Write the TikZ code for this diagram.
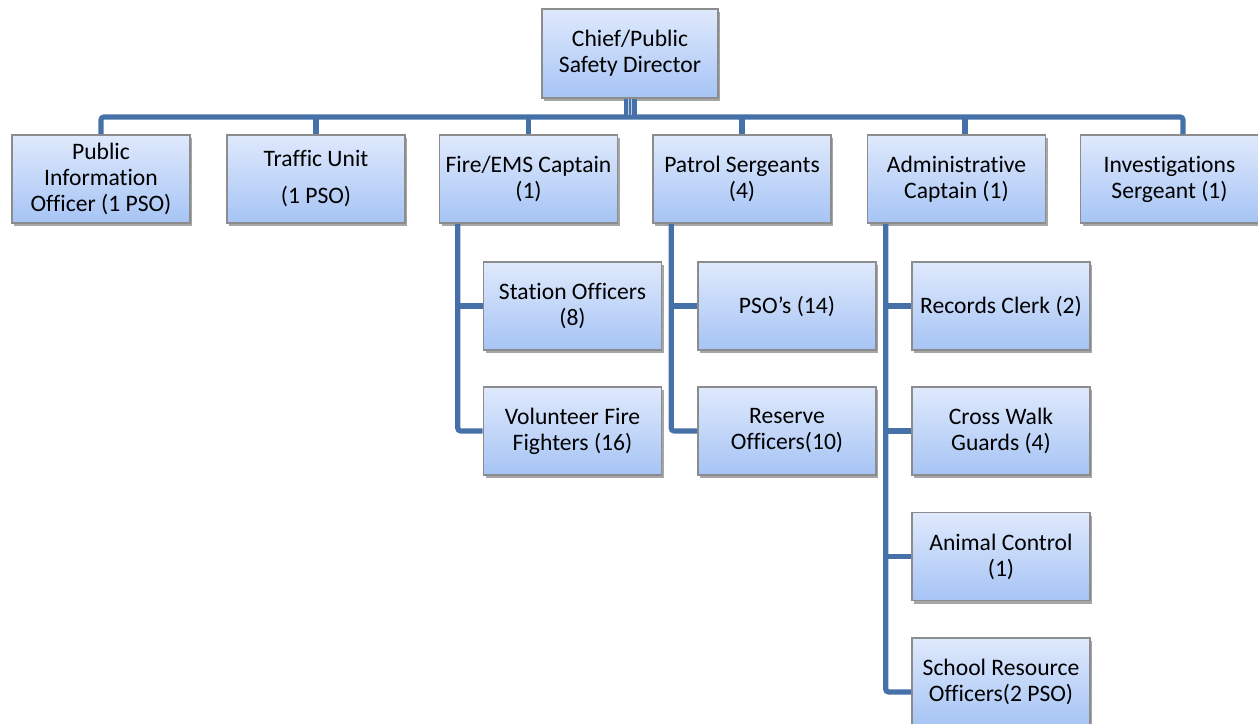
\documentclass[tikz,border=0pt]{standalone}
\usepackage{fontspec}
\setmainfont{Carlito}[Ligatures={NoCommon}]
\usetikzlibrary{shadows}
\definecolor{boxtop}{RGB}{223,233,252}
\definecolor{boxbottom}{RGB}{166,196,245}
\definecolor{boxline}{RGB}{140,140,140}
\definecolor{linkblue}{RGB}{70,113,168}
\newcommand{\widthbox}{89pt}
\newcommand{\heightbox}{44pt}
\newcommand{\spineshift}{9.5pt}
\tikzset{
    common/.style={draw=boxline, line width=0.8pt, rectangle, align=center, inner sep=1pt,
        top color=boxtop, bottom color=boxbottom, minimum height=\heightbox,
        drop shadow={shadow xshift=1pt, shadow yshift=-1.5pt, opacity=0.35, fill=black},
        font=\fontsize{11.8}{13}\selectfont},
    unit/.style={common, minimum width=\widthbox},
    head/.style={common, minimum width=88pt, minimum height=44.5pt},
    link/.style={draw=linkblue, line width=2.6pt, rounded corners=1.5pt},
    stem/.style={draw=linkblue, line width=6.5pt},
    stemlines/.style={draw=linkblue!35!white, line width=0.35pt, double=linkblue, double distance=1.4pt}
}

\begin{document}
\begin{tikzpicture}[x=0.5pt, y=-0.5pt]
    \useasboundingbox (0,0) rectangle (1258,723);

    % top of the chart
    \node[head] (chief) at (630,53.5) {Chief/Public\\Safety Director};
    \node[unit] (pio) at (101,179) {Public\\Information\\Officer (1 PSO)};
    \node[unit] (traffic) at (316,179) {Traffic Unit\\[5.5pt](1 PSO)};
    \node[unit] (fire) at (528.5,179) {Fire/EMS Captain\\(1)};
    \node[unit] (patrol) at (742,179) {Patrol Sergeants\\(4)};
    \node[unit] (admin) at (956.5,179) {Administrative\\Captain (1)};
    \node[unit] (inv) at (1169.5,179) {Investigations\\Sergeant (1)};

    % fire / ems
    \node[unit] (station) at (572.5,306) {Station Officers\\(8)};
    \node[unit] (volunteer) at (572.5,431) {Volunteer Fire\\Fighters (16)};

    % patrol
    \node[unit] (pso) at (787,306) {PSO’s (14)};
    \node[unit] (reserve) at (787,431) {Reserve\\Officers(10)};

    % administration
    \node[unit] (records) at (1001,306) {Records Clerk (2)};
    \node[unit] (crosswalk) at (1001,431) {Cross Walk\\Guards (4)};
    \node[unit] (animal) at (1001,556.5) {Animal Control\\(1)};
    \node[unit] (school) at (1001,682) {School Resource\\Officers(2 PSO)};

    \coordinate (bus) at (630,117);
    \draw[link] (pio.north) |- (bus) -| ([xshift=6.75pt]inv.north);
    \foreach \unitname in {traffic, fire, patrol}
        \draw[link] (\unitname.north) -- (\unitname.north |- bus);
    \draw[link] ([xshift=4.25pt]admin.north) -- ([xshift=4.25pt]admin.north |- bus);
    \draw[stem] (chief.south) -- (chief.south |- bus);
    \draw[stemlines] (chief.south) -- ([yshift=1pt]chief.south |- bus);

    \coordinate (firespine) at ([xshift=\spineshift]fire.south west);
    \draw[link] (firespine) |- (volunteer.west);
    \draw[link] (firespine |- station.west) -- (station.west);

    \coordinate (patrolspine) at ([xshift=\spineshift]patrol.south west);
    \draw[link] (patrolspine) |- (reserve.west);
    \draw[link] (patrolspine |- pso.west) -- (pso.west);

    \coordinate (adminspine) at ([xshift=\spineshift]admin.south west);
    \draw[link] (adminspine) |- ([yshift=-5pt]school.west);
    \foreach \unitname in {records, crosswalk, animal}
        \draw[link] (adminspine |- \unitname.west) -- (\unitname.west);
\end{tikzpicture}
\end{document}
